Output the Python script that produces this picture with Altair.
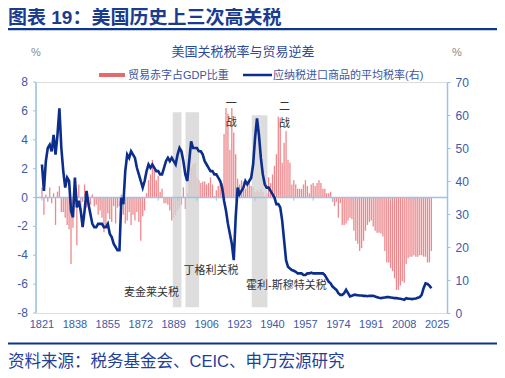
import altair as alt
import pandas as pd

FONT = "Liberation Sans, Noto Sans CJK SC, sans-serif"
BLUE_TXT = "#3b5aa6"
AXIS_LINE = "#9dc3e6"

# ---- data -------------------------------------------------------------
bar_years = list(range(1821, 2023))
trade_balance = [
    0.7, -1.2, 0.2, -0.3, 0.7, -0.4, 0.3, -1.9, 0.4, 0.8,          # 1821-1830
    -1.0, -1.0, -1.4, -1.9, -2.2, -4.6, -2.1, 1.4, -3.3, 0.9,      # 1831-1840
    -0.8, -0.3, 0.9, -0.7, -0.4, -0.5, 0.2, -0.6, -0.5, -1.2,      # 1841-1850
    -0.9, -1.4, -2.4, -2.0, -1.1, -1.5, -1.7, -0.6, -1.8, -0.7,    # 1851-1860
    -0.6, 0.2, -1.2, -1.8, -1.6, -1.0, -1.9, -1.2, -1.6, -1.0,     # 1861-1870
    -1.7, -3.0, -1.3, -0.9, 0.3, 1.2, 1.6, 2.6, 2.1, 1.2,          # 1871-1880
    1.5, 0.4, 0.6, -0.4, -0.4, -0.5, -0.9, -1.6, -1.4, -1.2,       # 1881-1890
    -0.9, -0.7, -0.5, 0.7, -0.8, 0.3, 1.2, 2.1, 2.3, 2.4,          # 1891-1900
    1.4, 1.2, 1.0, 1.1, 1.1, 0.9, 1.0, 1.4, 0.9, 0.1,              # 1901-1910
    0.5, 0.8, 0.9, 1.0, 4.4, 6.2, 5.8, 3.3, 6.2, 4.5,              # 1911-1920
    3.0, 1.3, 0.9, 1.2, 1.1, 0.6, 0.9, 1.1, 0.8, 0.7,              # 1921-1930
    0.4, 0.5, 0.4, 0.6, 0.4, 0.1, 0.3, 1.4, 1.0, 1.6,              # 1931-1940
    2.2, 3.0, 5.6, 5.5, 2.4, 3.8, 4.6, 2.6, 2.4, 0.9,              # 1941-1950
    1.2, 0.9, 0.6, 0.6, 0.6, 0.9, 1.2, 0.8, 0.3, 0.9,              # 1951-1960
    1.0, 0.8, 1.0, 1.2, 1.0, 0.6, 0.6, 0.3, 0.3, 0.4,              # 1961-1970
    -0.3, -0.6, -0.3, -1.4, -0.4, -1.9, -1.9, -1.8, -1.6, -1.4,    # 1971-1980
    -1.5, -2.3, -3.0, -3.2, -3.7, -3.5, -3.0, -2.3, -1.9, -1.7,    # 1981-1990
    -1.6, -2.0, -2.3, -2.45, -2.45, -2.5, -2.7, -3.7, -4.5, -4.5,  # 1991-2000
    -4.9, -5.1, -5.6, -6.4, -6.4, -6.1, -5.8, -5.9, -4.6, -4.2,    # 2001-2010
    -4.1, -4.1, -4.0, -4.1, -4.1, -4.0, -4.0, -4.1, -4.1, -4.5,    # 2011-2020
    -4.5, -3.7,                                                    # 2021-2022
]

line_years = list(range(1821, 2023))
tariff_rate = [
    45, 37, 46, 50, 51, 49, 54, 48, 54, 62,                # 1821-1830
    50, 43, 38, 41, 40, 31, 29, 41, 32, 34,                # 1831-1840
    31, 26, 31, 37, 33, 30, 27, 26, 26, 27,                # 1841-1850
    27, 27, 26, 26, 27, 24, 23, 21, 20, 19,                # 1851-1860
    19, 35, 33, 43, 48, 47, 49, 48, 47, 44,                # 1861-1870
    42, 40, 38, 40, 43, 45, 44, 45, 44, 43,                # 1871-1880
    43, 42, 42, 44, 46, 47, 46, 47, 46, 45,                # 1881-1890
    48, 50, 49, 46, 42, 40, 46, 52, 50, 50,                # 1891-1900
    50, 49, 49, 48, 46, 45, 44, 43, 43, 42,                # 1901-1910
    42, 41, 40, 38, 34, 31, 27, 24, 21, 16,                # 1911-1920
    29, 38, 36, 37, 38, 40, 39, 40, 41, 45,                # 1921-1930
    53, 59, 54, 47, 42, 39, 38, 38, 37, 36,                # 1931-1940
    35, 33, 33, 32, 28, 22, 16, 14, 13.5, 13,              # 1941-1950
    12.8, 12.5, 12, 12, 12, 11.5, 11.5, 12, 12, 12.2,      # 1951-1960
    12, 12, 12, 12, 12, 12, 11.5, 10.5, 9.5, 9,            # 1961-1970
    8, 7.5, 7, 6, 5.5, 5.5, 6, 7, 6, 5,                    # 1971-1980
    5.2, 5.5, 5.5, 5.4, 5.3, 5.3, 5.2, 5.2, 5.1, 5.2,      # 1981-1990
    5.2, 5.2, 5.0, 4.8, 4.6, 4.5, 4.6, 4.7, 4.8, 4.8,      # 1991-2000
    4.7, 4.6, 4.5, 4.5, 4.4, 4.3, 4.2, 4.0, 4.5, 4.3,      # 2001-2010
    4.3, 4.2, 4.3, 4.4, 4.6, 4.8, 5.5, 7.5, 9.0, 8.8,      # 2011-2020
    8.3, 7.5,                                              # 2021-2022
]

tariff_periods = ["麦金莱关税", "丁格利关税", "霍利-斯穆特关税"]
period_start = [1888.5, 1895.1, 1929.3]
period_end = [1893.0, 1902.1, 1937.4]
period_top = [5.9, 5.9, 5.7]
period_bottom = [-7.6, -7.6, -7.6]

label_texts = ["麦金莱关税", "丁格利关税", "霍利-斯穆特关税", "一", "战", "二", "战"]
label_years = [1877.6, 1908.3, 1947.2, 1918.7, 1918.7, 1946.2, 1946.2]
label_values = [-6.6, -5.1, -6.1, 6.48, 5.18, 6.29, 5.09]

x_label_years = list(range(1821, 2026, 17))
zero_tick_years = list(range(1821, 2026, 10))
left_ticks = list(range(-8, 9, 2))
right_ticks = list(range(0, 71, 10))

# ---- frames -----------------------------------------------------------
bars_df = pd.DataFrame({"year": bar_years, "value": trade_balance})
line_df = pd.DataFrame({"year": line_years, "rate": tariff_rate})
rect_df = pd.DataFrame({"name": tariff_periods, "start": period_start, "end": period_end,
                        "top": period_top, "bottom": period_bottom})
ann_df = pd.DataFrame({"text": label_texts, "year": label_years, "value": label_values})
tick_df = pd.DataFrame({"year": zero_tick_years, "y0": [0.0] * len(zero_tick_years),
                        "y1": [-0.22] * len(zero_tick_years)})
xlab_df = pd.DataFrame({"year": x_label_years, "label": [str(y) for y in x_label_years]})
ltick_df = pd.DataFrame({"v": left_ticks, "label": [str(v) for v in left_ticks]})
ends_df = pd.DataFrame({"lo": [-8], "hi": [8], "zero": [0]})

xscale = alt.Scale(domain=[1820.5, 2027.5], nice=False, zero=False)
lscale = alt.Scale(domain=[-8, 8], nice=False, zero=False)
rscale = alt.Scale(domain=[0, 70], nice=False, zero=False)
raxis = alt.Axis(values=right_ticks, orient="right", labelColor=BLUE_TXT, labelFontSize=12,
                 labelFont=FONT, domainColor=AXIS_LINE, domainWidth=1.5, tickColor=AXIS_LINE,
                 tickSize=3, labelPadding=5, grid=False, title=None, labelOverlap=False)

bars = alt.Chart(bars_df).mark_bar(size=1.3, color="#e86a6f", opacity=0.8).encode(
    x=alt.X("year:Q", scale=xscale, axis=None),
    y=alt.Y("value:Q", scale=lscale, axis=None),
)

zero_rule = alt.Chart(ends_df).mark_rule(color=AXIS_LINE, strokeWidth=1.5).encode(
    y=alt.Y("zero:Q", axis=None),
)

zero_ticks = alt.Chart(tick_df).mark_rule(color=AXIS_LINE, strokeWidth=1).encode(
    x=alt.X("year:Q", axis=None),
    y=alt.Y("y0:Q", axis=None),
    y2="y1:Q",
)

rects = alt.Chart(rect_df).mark_rect(color="#d4d4d4", opacity=0.8).encode(
    x=alt.X("start:Q", axis=None), x2="end:Q",
    y=alt.Y("top:Q", axis=None), y2="bottom:Q",
)

anns = alt.Chart(ann_df).mark_text(font=FONT, fontSize=11, color="#333333",
                                   baseline="middle", align="center").encode(
    x=alt.X("year:Q", axis=None), y=alt.Y("value:Q", axis=None), text="text:N",
)

# manual left axis and bottom labels (driven by the shared scales)
left_domain = alt.Chart(ends_df).mark_rule(color=AXIS_LINE, strokeWidth=1.5).encode(
    x=alt.value(0), y=alt.Y("lo:Q", axis=None), y2="hi:Q",
)
left_tickmarks = alt.Chart(ltick_df).mark_rule(color=AXIS_LINE, strokeWidth=1).encode(
    x=alt.value(-3), x2=alt.value(0), y=alt.Y("v:Q", axis=None),
)
left_labels = alt.Chart(ltick_df).mark_text(font=FONT, fontSize=12, color=BLUE_TXT,
                                            align="right", baseline="middle").encode(
    x=alt.value(-8), y=alt.Y("v:Q", axis=None), text="label:N",
)
x_labels = alt.Chart(xlab_df).mark_text(font=FONT, fontSize=11, color=BLUE_TXT,
                                        align="center", baseline="middle").encode(
    x=alt.X("year:Q", axis=None), y=alt.value(243), text="label:N",
)

left_group = alt.layer(bars, rects, zero_rule, zero_ticks, anns,
                       left_domain, left_tickmarks, left_labels, x_labels)

line = alt.Chart(line_df).mark_line(color="#0b2d8c", strokeWidth=2.6).encode(
    x=alt.X("year:Q", axis=None),
    y=alt.Y("rate:Q", scale=rscale, axis=raxis),
)

# ---- decorations (page furniture) ------------------------------------
one = pd.DataFrame({"k": [0]})
def txt(t, x, y, size, color, weight="normal", align="left"):
    return alt.Chart(one).mark_text(text=t, font=FONT, fontSize=size, color=color,
                                    fontWeight=weight, align=align, baseline="middle").encode(
        x=alt.value(x), y=alt.value(y))

def hrule(x1, x2, y, color, w):
    return alt.Chart(one).mark_rule(color=color, strokeWidth=w).encode(
        x=alt.value(x1), x2=alt.value(x2), y=alt.value(y))

deco = alt.layer(
    txt("图表 19：美国历史上三次高关税", -28, -64.5, 19, "#1b3b8f", "bold"),
    hrule(-28, 462, -52.8, "#0c3592", 2.2),
    txt("美国关税税率与贸易逆差", 207, -30, 13, "#2e4a9a", align="center"),
    txt("%", 0, -29, 11, "#8a8a8a", align="center"),
    txt("%", 421, -29, 11, "#8a8a8a", align="center"),
    hrule(63, 89, -7, "#e46a6e", 4),
    txt("贸易赤字占GDP比重", 92, -6.5, 11, "#3a55a0"),
    hrule(207, 236, -7, "#0b2d8c", 2.5),
    txt("应纳税进口商品的平均税率(右)", 237, -6.5, 11, "#3a55a0"),
    hrule(-28, 462, 261.5, "#0c3592", 2.2),
    txt("资料来源：税务基金会、CEIC、申万宏源研究", -28, 279.5, 16.5, "#1f3f99"),
)

chart = alt.layer(left_group, line, deco).resolve_scale(y="independent").properties(
    width=411, height=231,
    autosize=alt.AutoSizeParams(type="none"),
    padding={"left": 28, "top": 74, "right": 50, "bottom": 57},
).configure_view(stroke=None).configure(background="white")

chart.save("out.html", embed_options={"renderer": "svg", "actions": False})
